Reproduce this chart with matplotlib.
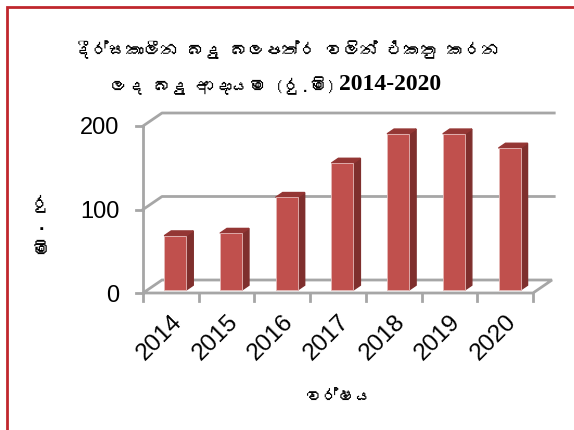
import matplotlib
matplotlib.use('Agg')
import matplotlib.pyplot as plt
from matplotlib import font_manager, ft2font
from matplotlib.patches import Polygon, Rectangle

years = ['2014', '2015', '2016', '2017', '2018', '2019', '2020']
values = [65, 68, 111, 152, 187, 187, 170]
y_ticks = [0, 100, 200]

title_1 = 'දීර්ඝකාලීන බදු බලපත්ර වලින් එකතු කරන'
title_2 = 'ලද බදු ආදායම (රු.මි)'
title_years = '2014-2020'
x_title = 'වර්ෂය'
y_title = ['රු', '.', 'මි']


def find_font(ch):
    # first installed font that actually has this glyph
    for f in font_manager.fontManager.ttflist:
        try:
            cmap = ft2font.FT2Font(f.fname).get_charmap()
        except Exception:
            continue
        if ord(ch) in cmap:
            return f.name
    return None


si_font = find_font('ද')
si_family = [si_font, 'Liberation Sans'] if si_font else ['DejaVu Sans']

W, H = 574, 430
fig = plt.figure(figsize=(W / 100, H / 100), dpi=100)

# red frame round the chart area
fig.patches.append(Rectangle((7 / W, -0.05), 1.1, (H - 7) / H + 0.05,
                             transform=fig.transFigure, fill=False,
                             edgecolor='#C0272D', linewidth=2))

# front floor edge 143..533 px, zero at 293 px, 200 at 126 px
ax = fig.add_axes([143 / W, (H - 293) / H, 390 / W, (293 - 126) / H])
ax.set_xlim(0, 7)
ax.set_ylim(0, 200)
for s in ax.spines.values():
    s.set_visible(False)

grid = '#A6A6A6'
DX, DY = 19 / (390 / 7), 13 / ((293 - 126) / 200)

# walls and floor
ax.plot([0, 0], [0, 200], color=grid, lw=2, clip_on=False)
for v in y_ticks[1:]:
    ax.plot([0, DX, 7 + DX + 0.04], [v, v + DY, v + DY], color=grid, lw=2,
            clip_on=False)
ax.add_patch(Polygon([(0, 0), (7, 0), (7 + DX, DY), (DX, DY)], closed=True,
                     fill=False, edgecolor=grid, lw=2, clip_on=False))

# tick marks
for v in y_ticks:
    ax.plot([-0.13, 0], [v, v], color=grid, lw=2, clip_on=False)
for i in range(len(years) + 1):
    ax.plot([i, i], [0, -9], color=grid, lw=2, clip_on=False)

# bars with a little depth
f = 0.23
bw = 0.395
depth = 0.37
ox, oy = DX * f, DY * f
sx, sy = DX * depth, DY * depth
xs = [i + 0.5 + ox for i in range(len(years))]
bars = ax.bar(xs, values, width=bw, bottom=oy, color='#C0504D',
              edgecolor='#E6B9B8', linewidth=0.6, zorder=3, clip_on=False)
for b in bars:
    x0, x1 = b.get_x(), b.get_x() + b.get_width()
    y0, y1 = b.get_y(), b.get_y() + b.get_height()
    ax.add_patch(Polygon([(x1, y0), (x1 + sx, y0 + sy), (x1 + sx, y1 + sy), (x1, y1)],
                         closed=True, color='#7F2F2D', zorder=2, clip_on=False))
    ax.add_patch(Polygon([(x0, y1), (x1, y1), (x1 + sx, y1 + sy), (x0 + sx, y1 + sy)],
                         closed=True, color='#943634', zorder=2, clip_on=False))

ax.set_yticks(y_ticks)
ax.set_yticklabels([str(v) for v in y_ticks], family='Liberation Sans',
                   fontsize=17)
ax.tick_params(axis='y', length=0, pad=17)
ax.set_xticks([i + 0.5 for i in range(len(years))])
ax.set_xticklabels(years, rotation=45, ha='right', va='top',
                   rotation_mode='anchor', family='Liberation Sans', fontsize=17.5)
ax.tick_params(axis='x', length=0, pad=13)

fig.text(287 / W, 1 - 50 / H, title_1, ha='center', va='center',
         family=si_family, fontsize=12.5, fontweight='bold')
fig.text(336 / W, 1 - 86 / H, title_2, ha='right', va='center',
         family=si_family, fontsize=12.5, fontweight='bold')
fig.text(339 / W, 1 - 85 / H, title_years, ha='left', va='center',
         family='Liberation Serif', fontsize=17, fontweight='bold')
fig.text(338 / W, 1 - 398 / H, x_title, ha='center', va='center',
         family=si_family, fontsize=12, fontweight='bold')

# unit label stacked one piece under another
for part, py in zip(y_title, [203, 226, 251]):
    fig.text(41 / W, 1 - py / H, part, ha='center', va='center',
             family='Liberation Sans' if part == '.' else si_family,
             fontsize=13 if part != '.' else 14, fontweight='bold')

fig.savefig('out.png', dpi=100)
